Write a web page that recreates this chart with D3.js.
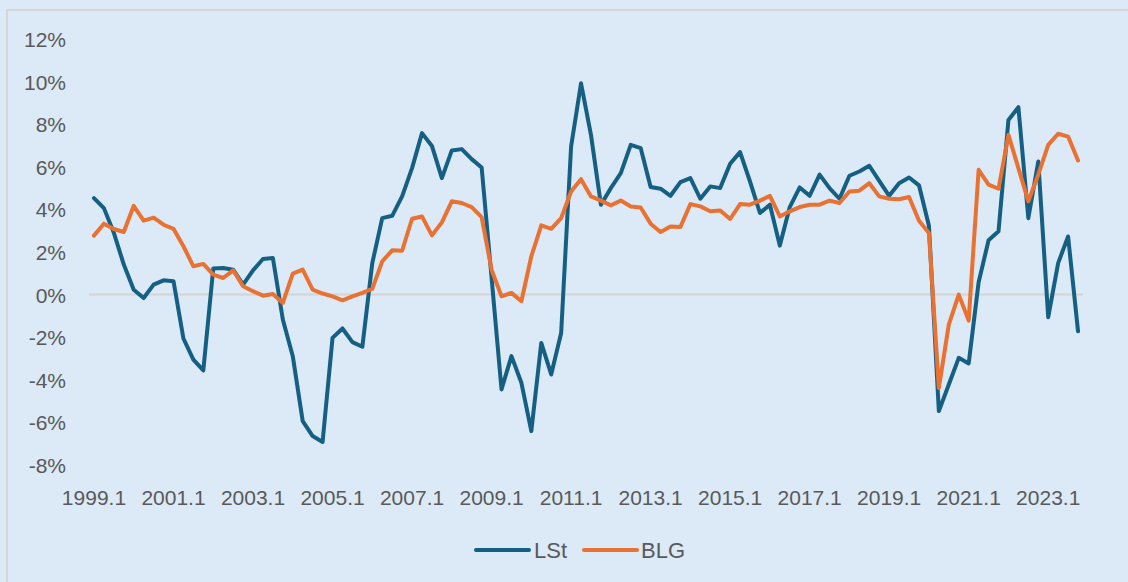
<!DOCTYPE html>
<html>
<head>
<meta charset="utf-8">
<script src="https://cdn.jsdelivr.net/npm/d3@7"></script>
<style>
  html, body { margin: 0; padding: 0; background: #DCE9F7; }
  svg { display: block; }
  text { font-family: "Liberation Sans", Arial, sans-serif; fill: #595959; }
</style>
</head>
<body>
<svg id="chart" width="1128" height="582"></svg>
<script>
// Quarterly categories 1999.1 – 2023.4
const years = d3.range(1999, 2024);
const quarters = years.flatMap(y => [1, 2, 3, 4].map(q => `${y}.${q}`));

// Growth rates, percent
const lst = [
  4.53, 4.06, 2.9, 1.41, 0.23, -0.16, 0.47, 0.67, 0.63, -2.06,
  -3.05, -3.56, 1.22, 1.25, 1.17, 0.47, 1.14, 1.67, 1.72, -1.17,
  -2.89, -5.94, -6.64, -6.92, -2.03, -1.59, -2.23, -2.45, 1.48, 3.59,
  3.70, 4.61, 5.94, 7.58, 6.98, 5.47, 6.77, 6.83, 6.36, 5.97,
  0.8, -4.45, -2.89, -4.14, -6.41, -2.27, -3.75, -1.80, 6.95, 9.92,
  7.50, 4.22, 5.0, 5.70, 7.03, 6.88, 5.05, 4.97, 4.64, 5.28,
  5.47, 4.5, 5.08, 5.0, 6.14, 6.69, 5.31, 3.83, 4.22, 2.30,
  4.11, 5.03, 4.64, 5.63, 5.0, 4.5, 5.58, 5.78, 6.05, 5.34,
  4.64, 5.23, 5.50, 5.13, 3.23, -5.47, -4.22, -2.97, -3.23, 0.58,
  2.55, 2.97, 8.20, 8.80, 3.59, 6.25, -1.06, 1.48, 2.73, -1.72
];
const blg = [
  2.77, 3.33, 3.08, 2.94, 4.17, 3.47, 3.61, 3.28, 3.09, 2.27,
  1.33, 1.44, 0.94, 0.78, 1.14, 0.39, 0.16, -0.05, 0.03, -0.39,
  0.98, 1.17, 0.23, 0.05, -0.08, -0.27, -0.08, 0.08, 0.27, 1.56,
  2.08, 2.06, 3.56, 3.67, 2.78, 3.39, 4.38, 4.30, 4.11, 3.64,
  1.17, -0.08, 0.08, -0.31, 1.80, 3.25, 3.09, 3.59, 4.84, 5.42,
  4.61, 4.41, 4.19, 4.42, 4.14, 4.09, 3.33, 2.94, 3.20, 3.17,
  4.25, 4.14, 3.91, 3.95, 3.55, 4.25, 4.22, 4.41, 4.64, 3.67,
  3.91, 4.11, 4.22, 4.22, 4.41, 4.30, 4.84, 4.88, 5.23, 4.61,
  4.5, 4.48, 4.58, 3.47, 2.89, -4.38, -1.41, 0.0, -1.22, 5.86,
  5.16, 4.97, 7.5, 5.94, 4.38, 5.63, 7.03, 7.55, 7.42, 6.30
];

const yTicks = d3.range(-8, 13, 2);
const xTickLabels = quarters.filter((d, i) => i % 8 === 0);

const series = [
  { name: "LSt", values: lst, color: "#156082" },
  { name: "BLG", values: blg, color: "#E97132" }
];

const svg = d3.select("#chart");

// chart frame
svg.append("rect")
  .attr("x", 7).attr("y", 10)
  .attr("width", 1140).attr("height", 600)
  .attr("fill", "#DCE9F7")
  .attr("stroke", "#D6D6D6").attr("stroke-width", 2);

const x = d3.scaleBand().domain(quarters).range([89, 1083]).padding(0);
const y = d3.scaleLinear().domain([-8, 12]).range([465, 39]);
const cx = d => x(d) + x.bandwidth() / 2;

// value axis labels
const yAxis = d3.axisLeft(y)
  .tickValues(yTicks)
  .tickSize(0)
  .tickPadding(0)
  .tickFormat(d => `${d}%`);
const yg = svg.append("g").attr("transform", "translate(66,0)").call(yAxis);
yg.select(".domain").remove();
yg.selectAll("text")
  .attr("font-size", 21)
  .attr("fill", "#595959")
  .attr("dy", "0.36em")
  .style("font-family", "'Liberation Sans', Arial, sans-serif");

// zero line
svg.append("line")
  .attr("x1", 89).attr("x2", 1083)
  .attr("y1", y(0)).attr("y2", y(0))
  .attr("stroke", "#D4D4D4").attr("stroke-width", 2);

// category axis labels along the bottom
const xAxis = d3.axisBottom(x)
  .tickValues(xTickLabels)
  .tickSize(0)
  .tickPadding(0);
const xg = svg.append("g").attr("transform", "translate(0,497)").call(xAxis);
xg.select(".domain").remove();
xg.selectAll("text")
  .attr("font-size", 21)
  .attr("fill", "#595959")
  .attr("dy", "0.36em")
  .attr("y", 0)
  .style("font-family", "'Liberation Sans', Arial, sans-serif");

// series lines
const line = d3.line()
  .x((d, i) => cx(quarters[i]))
  .y(d => y(d));

svg.selectAll("path.series")
  .data(series)
  .join("path")
  .attr("class", "series")
  .attr("d", s => line(s.values))
  .attr("fill", "none")
  .attr("stroke", s => s.color)
  .attr("stroke-width", 4)
  .attr("stroke-linejoin", "round")
  .attr("stroke-linecap", "round");

// legend
const legendItems = [
  { x: 476, tx: 534 },
  { x: 584, tx: 641 }
];
const lg = svg.append("g");
series.forEach((s, i) => {
  const it = legendItems[i];
  lg.append("line")
    .attr("x1", it.x).attr("x2", it.x + 53)
    .attr("y1", 550).attr("y2", 550)
    .attr("stroke", s.color).attr("stroke-width", 4)
    .attr("stroke-linecap", "round");
  lg.append("text")
    .attr("x", it.tx).attr("y", 550)
    .attr("dy", "0.36em")
    .attr("font-size", 22)
    .text(s.name);
});
</script>
</body>
</html>
